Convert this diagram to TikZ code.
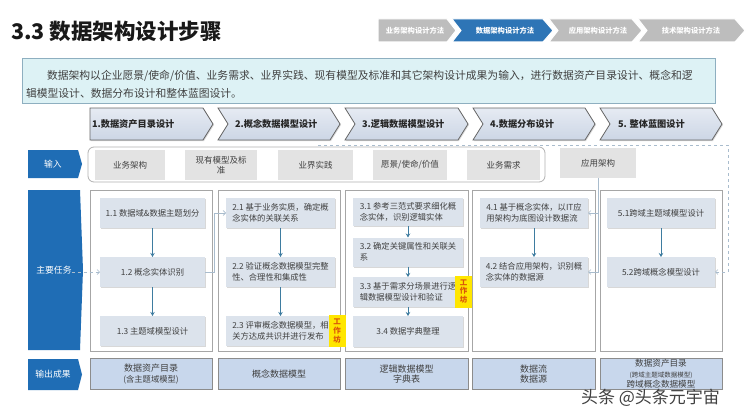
\documentclass[tikz,border=0pt]{standalone}
\usepackage{fontspec}
\setmainfont{Noto Sans CJK SC}
\usetikzlibrary{arrows.meta,shadows}
\definecolor{navgray}{HTML}{BDBDBD}
\definecolor{navblue}{HTML}{2E75B6}
\definecolor{labblue}{HTML}{1F6DB5}
\definecolor{introfill}{HTML}{DDF2F5}
\definecolor{introdraw}{HTML}{8EAFC0}
\definecolor{steptop}{HTML}{E6EBF3}
\definecolor{stepbot}{HTML}{CCD6E5}
\definecolor{taskfill}{HTML}{DCE3EC}
\definecolor{ingray}{HTML}{E3E3E3}
\definecolor{outfill}{HTML}{C8D7EC}
\definecolor{txt}{HTML}{404040}
\definecolor{arrowc}{HTML}{3E7CA0}
\definecolor{faintc}{HTML}{A9BCCD}
\definecolor{wsy}{HTML}{FFE600}
\definecolor{wso}{HTML}{D9540B}
\begin{document}
\begin{tikzpicture}[x=1pt,y=-1pt,
  every node/.style={inner sep=0pt,outer sep=0pt},
  navtext/.style={text=white,font=\bfseries\fontsize{7.3}{8}\selectfont},
  steptext/.style={anchor=west,text=black!85,font=\bfseries\fontsize{9.2}{10}\selectfont},
  stepshape/.style={top color=steptop,bottom color=stepbot,draw=black!60,line width=0.8pt,
    drop shadow={shadow xshift=1pt,shadow yshift=-1pt,opacity=0.3}},
  blab/.style={text=white,font=\fontsize{8.8}{10}\selectfont},
  inbox/.style={fill=ingray,text=txt,font=\fontsize{8.5}{10}\selectfont,align=center},
  colframe/.style={draw=black!35,line width=0.7pt},
  tbox/.style={fill=taskfill,text=txt,font=\fontsize{8.3}{10.6}\selectfont,align=left,
    drop shadow={shadow xshift=1pt,shadow yshift=-1.2pt,opacity=0.3}},
  outbox/.style={fill=outfill,draw=black!45,line width=0.6pt,text=txt,align=center,
    font=\fontsize{9}{10.5}\selectfont},
  flow/.style={draw=arrowc,line width=0.8pt,-{Stealth[length=4pt,width=4.5pt]}},
  faint/.style={draw=faintc,line width=0.6pt,-{Straight Barb[length=2.5pt,width=5pt]}},
  wshop/.style={fill=wsy,text=wso,font=\bfseries\fontsize{7.5}{8.6}\selectfont,align=center,
    minimum width=17pt,minimum height=32pt}
]
\path[use as bounding box,fill=white] (0,0) rectangle (750,420);

% title
\node[anchor=west,font=\bfseries\fontsize{21.5}{23}\selectfont,text=black!90] (title) at (11,31) {3.3 数据架构设计步骤};

% nav chevrons
\fill[navgray,draw=white,line width=1pt] (378,19)--(447,19)--(456,30.5)--(447,42)--(378,42)--cycle;
\fill[navgray,draw=white,line width=1pt] (549,19)--(632,19)--(642,30.5)--(632,42)--(549,42)--(558,30.5)--cycle;
\fill[navgray,draw=white,line width=1pt] (638,19)--(735,19)--(745,30.5)--(735,42)--(638,42)--(647,30.5)--cycle;
\fill[navblue,draw=white,line width=1pt] (452,19)--(543,19)--(553,30.5)--(543,42)--(452,42)--(461,30.5)--cycle;
\node[navtext] (nav1) at (415,30.5) {业务架构设计方法};
\node[navtext] (nav2) at (505,30.5) {数据架构设计方法};
\node[navtext] (nav3) at (598,30.5) {应用架构设计方法};
\node[navtext] (nav4) at (691,30.5) {技术架构设计方法};

% intro
\node[fill=introfill,draw=introdraw,line width=0.7pt,minimum width=693pt,minimum height=45pt] (intro) at (368.5,80.5) {};
\node[anchor=west,text=txt,font=\fontsize{10.8}{12}\selectfont] (intro1) at (47,75.5) {数据架构以企业愿景/使命/价值、业务需求、业界实践、现有模型及标准和其它架构设计成果为输入，进行数据资产目录设计、概念和逻};
\node[anchor=west,text=txt,font=\fontsize{10.8}{12}\selectfont] (intro2) at (26,93) {辑模型设计、数据分布设计和整体蓝图设计。};

% step chevrons
\path[stepshape] (90,108)--(203,108)--(213,124)--(203,140)--(90,140)--cycle;
\path[stepshape] (218,108)--(330,108)--(340,124)--(330,140)--(218,140)--(228,124)--cycle;
\path[stepshape] (345,108)--(458,108)--(468,124)--(458,140)--(345,140)--(355,124)--cycle;
\path[stepshape] (473,108)--(585,108)--(595,124)--(585,140)--(473,140)--(483,124)--cycle;
\path[stepshape] (600,108)--(712,108)--(722,124)--(712,140)--(600,140)--(610,124)--cycle;
\node[steptext] (s1) at (92,124) {1.数据资产目录设计};
\node[steptext] (s2) at (235,124) {2.概念数据模型设计};
\node[steptext] (s3) at (362,124) {3.逻辑数据模型设计};
\node[steptext] (s4) at (490,124) {4.数据分布设计};
\node[steptext] (s5) at (618,124) {5. 整体蓝图设计};

% left labels
\fill[labblue] (28,150)--(78,150)--(82,164)--(78,178)--(28,178)--cycle;
\fill[labblue] (28,190)--(80,190)--(83,270)--(80,350)--(28,350)--cycle;
\fill[labblue] (28,359)--(78,359)--(82,374.5)--(78,390)--(28,390)--cycle;
\node[blab] (lin) at (53,164) {输入};
\node[blab] (mt) at (54,270) {主要任务};
\node[blab] (lout) at (53,374.5) {输出成果};

% input row
\node[draw=black!30,line width=0.8pt,rounded corners=6pt,minimum width=457pt,minimum height=35pt] (inframe) at (316.5,164.5) {};
\node[inbox,minimum width=70pt,minimum height=30pt] (i1) at (130,165) {业务架构};
\node[inbox,minimum width=72pt,minimum height=30pt] (i2) at (221,165) {现有模型及标\\准};
\node[inbox,minimum width=75pt,minimum height=30pt] (i3) at (315.5,165) {业界实践};
\node[inbox,minimum width=74pt,minimum height=30pt] (i4) at (410,165) {愿景/使命/价值};
\node[inbox,minimum width=73pt,minimum height=30pt] (i5) at (503.5,165) {业务需求};
\node[inbox,minimum width=76pt,minimum height=30pt] (app) at (598,163) {应用架构};

% column frames
\node[colframe,minimum width=122pt,minimum height=161pt] (c1) at (151,270.5) {};
\node[colframe,minimum width=122pt,minimum height=161pt] (c2) at (279,270.5) {};
\node[colframe,minimum width=123pt,minimum height=161pt] (c3) at (406.5,270.5) {};
\node[colframe,minimum width=123pt,minimum height=161pt] (c4) at (533.5,270.5) {};
\node[colframe,minimum width=122pt,minimum height=161pt] (c5) at (661,270.5) {};

% tasks column 1
\node[tbox,minimum width=105pt,minimum height=30pt] (t11) at (152.5,213) {1.1 数据域\&数据主题划分};
\node[tbox,minimum width=105pt,minimum height=30pt] (t12) at (152.5,272) {1.2 概念实体识别};
\node[tbox,minimum width=105pt,minimum height=30pt] (t13) at (152.5,331) {1.3 主题域模型设计};
% column 2
\node[tbox,minimum width=109pt,minimum height=30pt] (t21) at (280.5,213) {2.1 基于业务实质，确定概\\念实体的关联关系};
\node[tbox,minimum width=109pt,minimum height=30pt] (t22) at (280.5,272) {2.2 验证概念数据模型完整\\性、合理性和集成性};
\node[tbox,minimum width=109pt,minimum height=30pt] (t23) at (280.5,331) {2.3 评审概念数据模型，相\\关方达成共识并进行发布};
% column 3
\node[tbox,minimum width=110pt,minimum height=28pt] (t31) at (408,212) {3.1 参考三范式要求细化概\\念实体，识别逻辑实体};
\node[tbox,minimum width=110pt,minimum height=29pt] (t32) at (408,252) {3.2 确定关键属性和关联关\\系};
\node[tbox,minimum width=110pt,minimum height=30pt] (t33) at (408,292) {3.3 基于需求分场景进行逻\\辑数据模型设计和验证};
\node[tbox,minimum width=110pt,minimum height=31pt] (t34) at (408,331.5) {3.4 数据字典整理};
% column 4
\node[tbox,minimum width=108pt,minimum height=30pt] (t41) at (534,213) {4.1 基于概念实体，以IT应\\用架构为底图设计数据流};
\node[tbox,minimum width=108pt,minimum height=30pt] (t42) at (534,272) {4.2 结合应用架构，识别概\\念实体的数据源};
% column 5
\node[tbox,minimum width=108pt,minimum height=30pt] (t51) at (661,213) {5.1跨域主题域模型设计};
\node[tbox,minimum width=108pt,minimum height=30pt] (t52) at (661,272) {5.2跨域概念模型设计};

% workshops
\node[wshop] (ws1) at (337,331) {工\\作\\坊};
\node[wshop] (ws2) at (463.5,291.5) {工\\作\\坊};

% flows
\draw[flow] (t11) -- (t12);
\draw[flow] (t12) -- (t13);
\draw[flow] (t21) -- (t22);
\draw[flow] (t22) -- (t23);
\draw[flow] (t31) -- (t32);
\draw[flow] (t32) -- (t33);
\draw[flow] (t33) -- (t34);
\draw[flow] (t41) -- (t42);
\draw[flow] (t51) -- (t52);

% faint connectors
\draw[faint] (t12.east) -- ++(9,0) |- (t21.west);
\draw[faint,dashed] (mt.east |- t12.west) -- (t12.west);
\draw[faint] (app.south) |- (t41.east);
\draw[faint] (app.south) |- (t42.east);
\coordinate (dstart) at (318,145);
\draw[faint,dashed] (dstart) -- ++(410,0) |- (t52.east);

% outputs
\node[outbox,minimum width=122pt,minimum height=31pt] (o1) at (151,374) {数据资产目录\\{\fontsize{8.3}{9.5}\selectfont (含主题域模型)}};
\node[outbox,minimum width=122pt,minimum height=31pt] (o2) at (279,374) {概念数据模型};
\node[outbox,minimum width=123pt,minimum height=31pt] (o3) at (406.5,374) {逻辑数据模型\\字典表};
\node[outbox,minimum width=123pt,minimum height=31pt] (o4) at (533.5,374) {数据流\\数据源};
\node[outbox,minimum width=122pt,minimum height=31pt] (o5) at (661,374) {{\fontsize{8.6}{9}\selectfont 数据资产目录}\\{\fontsize{6.5}{7.5}\selectfont (跨域主题域数据模型)}\\{\fontsize{8.6}{9}\selectfont 跨域概念数据模型}};

% watermark
\node[anchor=west,text=black!75,font=\fontsize{17}{18}\selectfont] (wm) at (581,398) {头条 @头条元宇宙};
\end{tikzpicture}
\end{document}
